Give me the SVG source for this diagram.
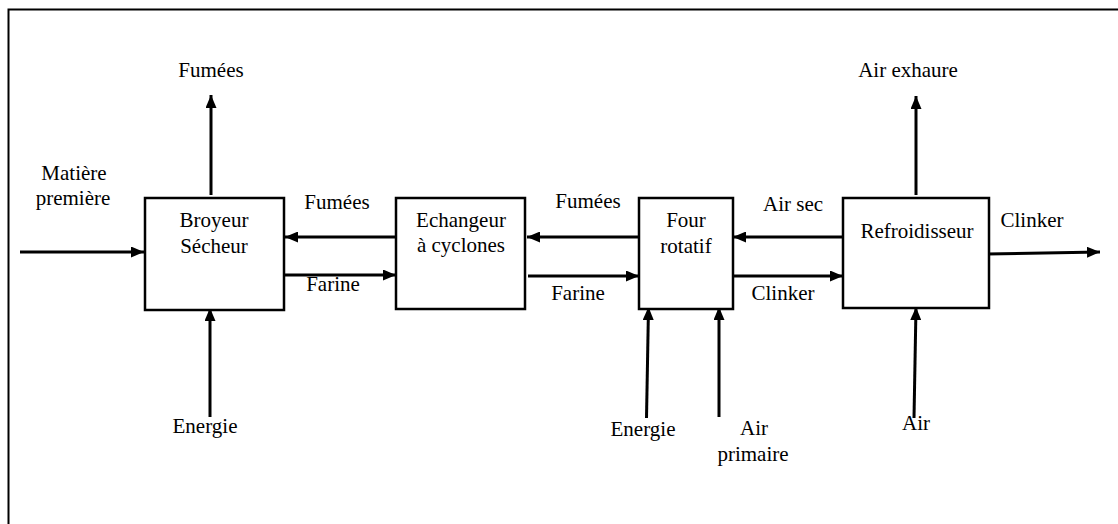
<svg xmlns="http://www.w3.org/2000/svg" width="1118" height="524" viewBox="0 0 1118 524">
  <style>
    text { font-family: "Liberation Serif", "Times New Roman", "DejaVu Serif", serif; font-size: 21px; fill: #000; text-anchor: middle; }
    .box { fill: #fff; stroke: #000; stroke-width: 2.5; }
    .flow { stroke: #000; stroke-width: 3; fill: none; marker-end: url(#head); }
    .frame { fill: none; stroke: #000; stroke-width: 2; }
  </style>
  <defs>
    <marker id="head" markerUnits="userSpaceOnUse" markerWidth="13" markerHeight="11" refX="13" refY="5.5" orient="auto">
      <path d="M0,0 L13,5.5 L0,11 z" fill="#000"/>
    </marker>
  </defs>

  <rect width="1118" height="524" fill="#fff"/>
  <!-- outer frame, open to the right and bottom -->
  <path class="frame" d="M8.5,530 L8.5,9.5 L1125,9.5"/>

  <!-- flows between units -->
  <g id="connectors">
    <line class="flow" x1="20" y1="252" x2="144" y2="252"/>
    <line class="flow" x1="211" y1="195" x2="211" y2="95"/>
    <line class="flow" x1="210" y1="417" x2="210" y2="308"/>
    <line class="flow" x1="396" y1="237" x2="285" y2="237"/>
    <line class="flow" x1="284" y1="275" x2="396" y2="275"/>
    <line class="flow" x1="639" y1="237" x2="527" y2="237"/>
    <line class="flow" x1="528" y1="276" x2="639" y2="276"/>
    <line class="flow" x1="843" y1="237" x2="733" y2="237"/>
    <line class="flow" x1="733" y1="276" x2="843" y2="276"/>
    <line class="flow" x1="916" y1="195" x2="916" y2="96"/>
    <line class="flow" x1="987" y1="254" x2="1100" y2="252"/>
    <line class="flow" x1="646.5" y1="418" x2="648.5" y2="307"/>
    <line class="flow" x1="719" y1="417" x2="719" y2="307"/>
    <line class="flow" x1="914" y1="418" x2="916" y2="307"/>
  </g>

  <g font-family="Liberation Serif, Times New Roman, serif">
  <!-- process units -->
  <g id="broyeur">
    <rect class="box" x="145" y="198" width="139" height="112"/>
    <text x="214" y="227">Broyeur</text>
    <text x="214" y="253">Sécheur</text>
  </g>
  <g id="echangeur">
    <rect class="box" x="396" y="198" width="129" height="111"/>
    <text x="461" y="227">Echangeur</text>
    <text x="461" y="252">à cyclones</text>
  </g>
  <g id="four">
    <rect class="box" x="639" y="198" width="94" height="111"/>
    <text x="686" y="227">Four</text>
    <text x="686" y="253">rotatif</text>
  </g>
  <g id="refroidisseur">
    <rect class="box" x="843" y="198" width="146" height="110"/>
    <text x="917" y="238">Refroidisseur</text>
  </g>

  <!-- flow labels -->
  <g id="labels">
    <text x="211" y="77">Fumées</text>
    <text x="74" y="180">Matière</text>
    <text x="73" y="205">première</text>
    <text x="337" y="209">Fumées</text>
    <text x="333" y="291">Farine</text>
    <text x="588" y="208">Fumées</text>
    <text x="578" y="300">Farine</text>
    <text x="793" y="211">Air sec</text>
    <text x="783" y="300">Clinker</text>
    <text x="908" y="77">Air exhaure</text>
    <text x="1032" y="227">Clinker</text>
    <text x="205" y="433">Energie</text>
    <text x="643" y="436">Energie</text>
    <text x="754" y="435">Air</text>
    <text x="753" y="461">primaire</text>
    <text x="916" y="430">Air</text>
  </g>
  </g>
</svg>
